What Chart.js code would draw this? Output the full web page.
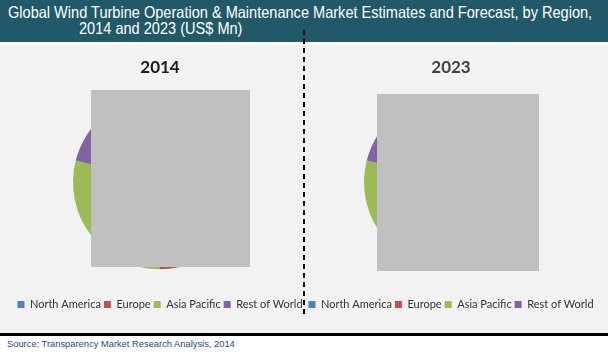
<!DOCTYPE html>
<html>
<head>
<meta charset="utf-8">
<script src="https://cdn.jsdelivr.net/npm/chart.js@4.4.0/dist/chart.umd.min.js"></script>
<style>
  html, body { margin:0; padding:0; width:608px; height:354px; overflow:hidden; background:#fff; font-family:"Liberation Sans", Arial, sans-serif; }
  #header { position:absolute; left:0; top:0; width:608px; height:42px; background:#215968; }
  .hl { position:absolute; color:#fff; font-size:16.5px; line-height:19px; white-space:nowrap; transform-origin:0 0; }
  #panel { position:absolute; left:0; top:45px; width:608px; height:288px; background:#f2f2f2; }
  #rule { position:absolute; left:0; top:333px; width:608px; height:3px; background:#000; }
  #source { position:absolute; left:7px; top:338px; font-size:9.5px; line-height:12px; color:#1f497d; white-space:nowrap; transform-origin:0 0; }
  .cv { position:absolute; top:45px; }
  #divider { position:absolute; left:303px; top:30px; width:2px; height:287px;
    background:repeating-linear-gradient(to bottom, #000 0 5px, transparent 5px 9px); }
  .mask { position:absolute; background:#c0c0c0; }
</style>
</head>
<body>
<div id="header">
  <div class="hl" id="line1" style="left:8px; top:3px;">Global Wind Turbine Operation &amp; Maintenance Market Estimates and Forecast, by Region,</div>
  <div class="hl" id="line2" style="left:79px; top:19px;">2014 and 2023 (US$ Mn)</div>
</div>
<div id="panel"></div>
<canvas id="pie2014" class="cv" width="320" height="275" style="left:0px;"></canvas>
<canvas id="pie2023" class="cv" width="318" height="275" style="left:292px;"></canvas>
<div class="mask" style="left:91px; top:90px; width:159px; height:177px;"></div>
<div class="mask" style="left:377px; top:94px; width:162px; height:177px;"></div>
<div id="divider"></div>
<div id="rule"></div>
<div id="source">Source: Transparency Market Research Analysis, 2014</div>

<script>
// data
var regions = ['North America', 'Europe', 'Asia Pacific', 'Rest of World'];
var years = ['2014', '2023'];
var share2014 = [22, 28, 29, 21];
var share2023 = [21, 27, 31, 21];

var regionColors = ['#4f81bd', '#c0504d', '#9bbb59', '#8064a2'];

// squeeze the header lines a bit, the original font is a narrow one
var l1 = document.getElementById('line1');
var sx = 584 / l1.offsetWidth;
l1.style.transform = 'scaleX(' + sx + ')';
document.getElementById('line2').style.transform = 'scaleX(' + sx + ')';
var src = document.getElementById('source');
src.style.transform = 'scaleX(' + (228 / src.offsetWidth) + ')';

function makePie(canvasId, year, values, titleColor) {
  var ctx = document.getElementById(canvasId).getContext('2d');
  return new Chart(ctx, {
    type: 'pie',
    data: {
      labels: regions,
      datasets: [{
        data: values,
        backgroundColor: regionColors,
        borderWidth: 0
      }]
    },
    options: {
      responsive: false,
      animation: false,
      radius: 87,
      layout: { padding: 0 },
      plugins: {
        title: {
          display: true,
          text: year,
          color: titleColor,
          font: { family: 'Lato', size: 17, weight: 'bold', lineHeight: 1 },
          padding: { top: 14.5, bottom: 0 }
        },
        legend: {
          position: 'bottom',
          // empty legend title only pushes the labels down a little
          title: { display: true, text: '', font: { size: 1, lineHeight: 1 }, padding: { top: 7, bottom: 0 } },
          labels: {
            boxWidth: 7,
            boxHeight: 7,
            padding: 3,
            color: '#333333',
            font: { family: 'Lato', size: 11 }
          }
        },
        tooltip: { enabled: false }
      }
    }
  });
}

makePie('pie2014', years[0], share2014, '#1a1a1a');
makePie('pie2023', years[1], share2023, '#404040');
</script>
</body>
</html>
